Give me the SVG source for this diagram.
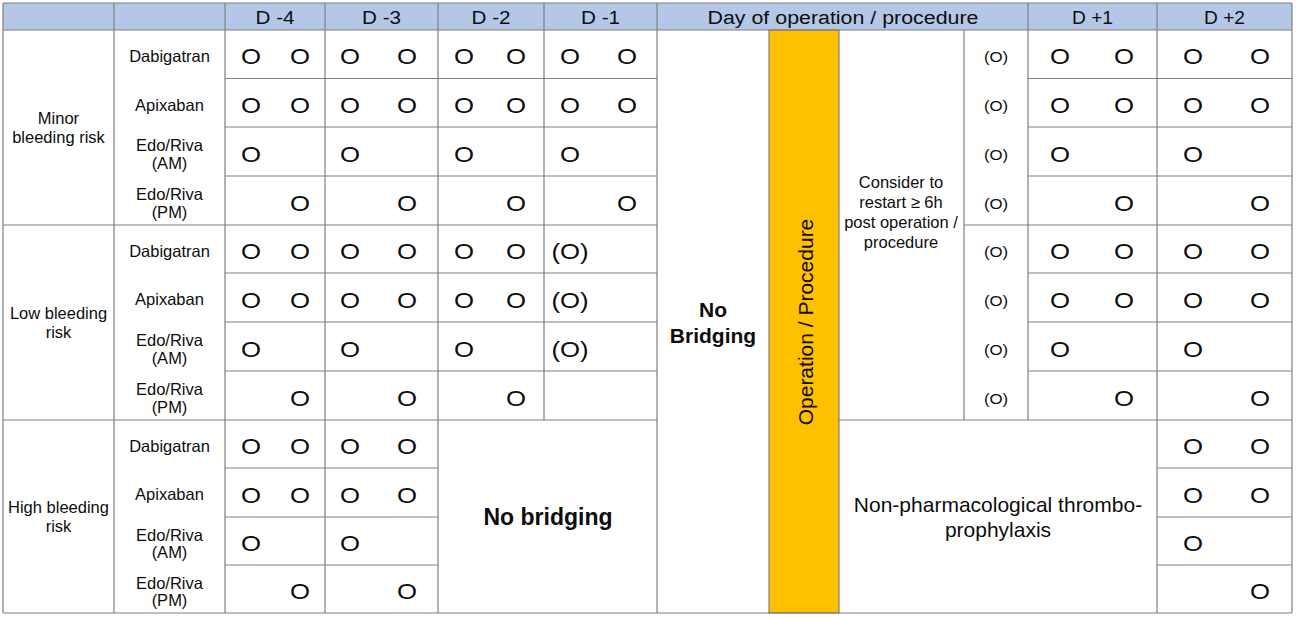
<svg xmlns="http://www.w3.org/2000/svg" xmlns:xlink="http://www.w3.org/1999/xlink" width="1296" height="617" viewBox="0 0 1296 617">
<style>
text{font-family:"Liberation Sans",Arial,sans-serif;fill:#0d0d0d;text-anchor:middle}
.hd{font-size:18px}
.lb{font-size:16.5px}
.o{font-size:23px}
.os{font-size:15px}
.b{font-weight:bold}
.grid{stroke:#808080;stroke-width:1.2;fill:none}
</style>
<defs>
<text id="o" class="o" transform="scale(1.12,1)">O</text>
<text id="po" class="o" transform="scale(1.12,1)">(O)</text>
<text id="ps" class="os" transform="scale(1.12,1)">(O)</text>
</defs>
<rect width="1296" height="617" fill="#ffffff"/>
<g id="header">
<rect x="3" y="3" width="1289" height="27" fill="#b4c7e7"/>
<text class="hd" x="275" y="23.5" textLength="39" lengthAdjust="spacingAndGlyphs">D -4</text>
<text class="hd" x="381.5" y="23.5" textLength="39" lengthAdjust="spacingAndGlyphs">D -3</text>
<text class="hd" x="491" y="23.5" textLength="39" lengthAdjust="spacingAndGlyphs">D -2</text>
<text class="hd" x="600.5" y="23.5" textLength="39" lengthAdjust="spacingAndGlyphs">D -1</text>
<text class="hd" x="843" y="23.5" textLength="271" lengthAdjust="spacingAndGlyphs">Day of operation / procedure</text>
<text class="hd" x="1092.5" y="23.5" textLength="41" lengthAdjust="spacingAndGlyphs">D +1</text>
<text class="hd" x="1224.5" y="23.5" textLength="41" lengthAdjust="spacingAndGlyphs">D +2</text>
</g>
<g id="operation-bar">
<rect x="769" y="30" width="70" height="583" fill="#ffc000" stroke="#6b6b6b" stroke-width="1"/>
<text x="805" y="329.5" transform="rotate(-90 805 322)" style="font-size:21px">Operation / Procedure</text>
</g>
<g id="connectors" class="grid">
<path d="M3 3H1292M3 30H1292M3 613H1292
M225 78.5H657M1028 78.5H1292
M225 127H657M1028 127H1292
M225 176H657M1028 176H1292
M3 225H657M964 225H1292
M225 273H657M1028 273H1292
M225 322H657M1028 322H1292
M225 371H657M1028 371H1292
M3 420H657M839 420H1292
M225 468H438M1157 468H1292
M225 517H438M1157 517H1292
M225 565H438M1157 565H1292
M3 3V613M114 3V613M225 3V613M325 3V613M438 3V613M544 3V420M657 3V613
M964 30V420M1028 3V420M1157 3V613M1292 3V613"/>
</g>
<g id="risk-groups" class="lb">
<text class="lb" x="58.5" y="124">Minor</text>
<text class="lb" x="58.5" y="143">bleeding risk</text>
<text class="lb" x="58.5" y="319">Low bleeding</text>
<text class="lb" x="58.5" y="338">risk</text>
<text class="lb" x="58.5" y="513">High bleeding</text>
<text class="lb" x="58.5" y="532">risk</text>
</g>
<g id="drugs">
<text class="lb" x="169.5" y="61.5">Dabigatran</text>
<text class="lb" x="169.5" y="110.5">Apixaban</text>
<text class="lb" x="169.5" y="151">Edo/Riva</text>
<text class="lb" x="169.5" y="168.5">(AM)</text>
<text class="lb" x="169.5" y="200">Edo/Riva</text>
<text class="lb" x="169.5" y="217.5">(PM)</text>
<text class="lb" x="169.5" y="256.5">Dabigatran</text>
<text class="lb" x="169.5" y="305">Apixaban</text>
<text class="lb" x="169.5" y="346">Edo/Riva</text>
<text class="lb" x="169.5" y="363.5">(AM)</text>
<text class="lb" x="169.5" y="395">Edo/Riva</text>
<text class="lb" x="169.5" y="412.5">(PM)</text>
<text class="lb" x="169.5" y="451.5">Dabigatran</text>
<text class="lb" x="169.5" y="500">Apixaban</text>
<text class="lb" x="169.5" y="540.5">Edo/Riva</text>
<text class="lb" x="169.5" y="558">(AM)</text>
<text class="lb" x="169.5" y="588.5">Edo/Riva</text>
<text class="lb" x="169.5" y="606">(PM)</text>
</g>
<g id="minor-doses">
<use xlink:href="#o" x="251" y="64"/><use xlink:href="#o" x="300" y="64"/><use xlink:href="#o" x="350" y="64"/><use xlink:href="#o" x="407" y="64"/><use xlink:href="#o" x="464" y="64"/><use xlink:href="#o" x="516" y="64"/><use xlink:href="#o" x="570" y="64"/><use xlink:href="#o" x="627" y="64"/>
<use xlink:href="#o" x="1060" y="64"/><use xlink:href="#o" x="1124" y="64"/><use xlink:href="#o" x="1193" y="64"/><use xlink:href="#o" x="1260" y="64"/>
<use xlink:href="#o" x="251" y="112.5"/><use xlink:href="#o" x="300" y="112.5"/><use xlink:href="#o" x="350" y="112.5"/><use xlink:href="#o" x="407" y="112.5"/><use xlink:href="#o" x="464" y="112.5"/><use xlink:href="#o" x="516" y="112.5"/><use xlink:href="#o" x="570" y="112.5"/><use xlink:href="#o" x="627" y="112.5"/>
<use xlink:href="#o" x="1060" y="112.5"/><use xlink:href="#o" x="1124" y="112.5"/><use xlink:href="#o" x="1193" y="112.5"/><use xlink:href="#o" x="1260" y="112.5"/>
<use xlink:href="#o" x="251" y="161.5"/><use xlink:href="#o" x="350" y="161.5"/><use xlink:href="#o" x="464" y="161.5"/><use xlink:href="#o" x="570" y="161.5"/>
<use xlink:href="#o" x="1060" y="161.5"/><use xlink:href="#o" x="1193" y="161.5"/>
<use xlink:href="#o" x="300" y="210.5"/><use xlink:href="#o" x="407" y="210.5"/><use xlink:href="#o" x="516" y="210.5"/><use xlink:href="#o" x="627" y="210.5"/>
<use xlink:href="#o" x="1124" y="210.5"/><use xlink:href="#o" x="1260" y="210.5"/>
</g>
<g id="low-doses">
<use xlink:href="#o" x="251" y="259"/><use xlink:href="#o" x="300" y="259"/><use xlink:href="#o" x="350" y="259"/><use xlink:href="#o" x="407" y="259"/><use xlink:href="#o" x="464" y="259"/><use xlink:href="#o" x="516" y="259"/><use xlink:href="#po" x="570" y="259"/>
<use xlink:href="#o" x="1060" y="259"/><use xlink:href="#o" x="1124" y="259"/><use xlink:href="#o" x="1193" y="259"/><use xlink:href="#o" x="1260" y="259"/>
<use xlink:href="#o" x="251" y="307.5"/><use xlink:href="#o" x="300" y="307.5"/><use xlink:href="#o" x="350" y="307.5"/><use xlink:href="#o" x="407" y="307.5"/><use xlink:href="#o" x="464" y="307.5"/><use xlink:href="#o" x="516" y="307.5"/><use xlink:href="#po" x="570" y="307.5"/>
<use xlink:href="#o" x="1060" y="307.5"/><use xlink:href="#o" x="1124" y="307.5"/><use xlink:href="#o" x="1193" y="307.5"/><use xlink:href="#o" x="1260" y="307.5"/>
<use xlink:href="#o" x="251" y="356.5"/><use xlink:href="#o" x="350" y="356.5"/><use xlink:href="#o" x="464" y="356.5"/><use xlink:href="#po" x="570" y="356.5"/>
<use xlink:href="#o" x="1060" y="356.5"/><use xlink:href="#o" x="1193" y="356.5"/>
<use xlink:href="#o" x="300" y="405.5"/><use xlink:href="#o" x="407" y="405.5"/><use xlink:href="#o" x="516" y="405.5"/>
<use xlink:href="#o" x="1124" y="405.5"/><use xlink:href="#o" x="1260" y="405.5"/>
</g>
<g id="high-doses">
<use xlink:href="#o" x="251" y="454"/><use xlink:href="#o" x="300" y="454"/><use xlink:href="#o" x="350" y="454"/><use xlink:href="#o" x="407" y="454"/>
<use xlink:href="#o" x="1193" y="454"/><use xlink:href="#o" x="1260" y="454"/>
<use xlink:href="#o" x="251" y="502.5"/><use xlink:href="#o" x="300" y="502.5"/><use xlink:href="#o" x="350" y="502.5"/><use xlink:href="#o" x="407" y="502.5"/>
<use xlink:href="#o" x="1193" y="502.5"/><use xlink:href="#o" x="1260" y="502.5"/>
<use xlink:href="#o" x="251" y="551"/><use xlink:href="#o" x="350" y="551"/>
<use xlink:href="#o" x="1193" y="551"/>
<use xlink:href="#o" x="300" y="599"/><use xlink:href="#o" x="407" y="599"/>
<use xlink:href="#o" x="1260" y="599"/>
</g>
<g id="restart-column">
<use xlink:href="#ps" x="996" y="62"/><use xlink:href="#ps" x="996" y="110.5"/><use xlink:href="#ps" x="996" y="159.5"/><use xlink:href="#ps" x="996" y="208.5"/>
<use xlink:href="#ps" x="996" y="257"/><use xlink:href="#ps" x="996" y="305.5"/><use xlink:href="#ps" x="996" y="354.5"/><use xlink:href="#ps" x="996" y="403.5"/>
</g>
<g id="consider-note">
<text class="lb" x="901" y="188">Consider to</text>
<text class="lb" x="901" y="208">restart ≥ 6h</text>
<text class="lb" x="901" y="228">post operation /</text>
<text class="lb" x="901" y="247.5">procedure</text>
</g>
<g id="no-bridging-day">
<text class="b" x="713" y="317" style="font-size:21px">No</text>
<text class="b" x="713" y="343" style="font-size:21px">Bridging</text>
</g>
<g id="no-bridging-high">
<text class="b" x="548" y="525" style="font-size:23px">No bridging</text>
</g>
<g id="non-pharmacological">
<text x="998" y="511.5" style="font-size:21px">Non-pharmacological thrombo-</text>
<text x="998" y="536.5" style="font-size:21px">prophylaxis</text>
</g>
</svg>
